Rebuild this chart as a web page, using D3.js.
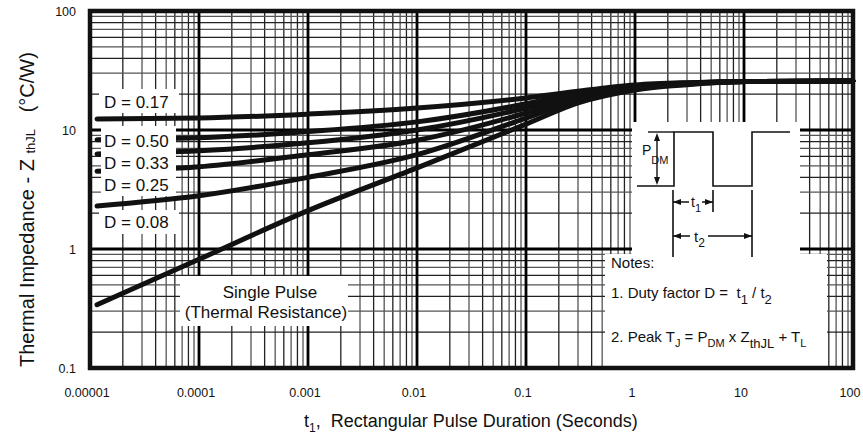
<!DOCTYPE html>
<html>
<head>
<meta charset="utf-8">
<script src="https://cdn.jsdelivr.net/npm/d3@7"></script>
<style>
  body { margin: 0; background: #fff; }
  svg text { font-family: Arial, "Liberation Sans", Helvetica, sans-serif; fill: #111; white-space: pre; }
</style>
</head>
<body>
<div class="chart"></div>
<script>
// pulse durations (s) the curves are read at
var tValues = [1.16e-5, 1e-4, 1e-3, 1e-2, 0.1, 0.3, 1, 3, 10, 100];

// thermal impedance (C/W), top curve to bottom curve
var zD17 = [12.4, 12.6, 13.6, 15.3, 18.6, 21.2, 23.9, 25.0, 25.5, 25.8];
var zD50 = [8.3, 8.6, 9.7, 11.7, 16.6, 20.5, 23.4, 24.8, 25.5, 25.8];
var zD33 = [6.3, 6.7, 7.8, 10.0, 15.3, 19.7, 23.0, 24.6, 25.5, 25.8];
var zD25 = [4.5, 4.9, 6.2, 8.2, 13.9, 18.9, 22.6, 24.4, 25.5, 25.8];
var zD08 = [2.3, 2.8, 4.0, 6.2, 12.6, 17.9, 22.2, 24.2, 25.5, 25.8];
var zSingle = [0.34, 0.82, 2.1, 4.8, 11.2, 16.9, 21.7, 24.0, 25.5, 25.8];

var curveLabels = ["D = 0.17", "D = 0.50", "D = 0.33", "D = 0.25", "D = 0.08"];

var xTickValues = [1e-5, 1e-4, 1e-3, 1e-2, 0.1, 1, 10, 100];
var xTickLabels = ["0.00001", "0.0001", "0.001", "0.01", "0.1", "1", "10", "100"];
var yTickValues = [0.1, 1, 10, 100];
var yTickLabels = ["0.1", "1", "10", "100"];

var width = 863, height = 434;
// note: "top" is taken by window.top, so the plot edges get their own names
var plotL = 90, plotR = 853, plotT = 11, plotB = 368;

var svg = d3.select('.chart').append('svg')
    .attr('width', width)
    .attr('height', height);

var x = d3.scaleLog().domain([1e-5, 100]).range([plotL, plotR]);
var y = d3.scaleLog().domain([0.1, 100]).range([plotB, plotT]);

// grid: minor lines at 2..9 of every decade, heavier lines on the decades
var grid = svg.append('g');
for (var d = -5; d < 2; d++) {
    for (var k = 2; k <= 9; k++) {
        var v = k * Math.pow(10, d);
        grid.append('line')
            .attr('x1', x(v)).attr('x2', x(v))
            .attr('y1', plotT).attr('y2', plotB)
            .style('stroke', (k % 2) ? '#555' : '#222')
            .style('stroke-width', 1.3);
    }
}
for (var d = -1; d < 2; d++) {
    for (var k = 2; k <= 9; k++) {
        var v = k * Math.pow(10, d);
        grid.append('line')
            .attr('x1', plotL).attr('x2', plotR)
            .attr('y1', y(v)).attr('y2', y(v))
            .style('stroke', (k % 2) ? '#555' : '#222')
            .style('stroke-width', 1.3);
    }
}
xTickValues.slice(1, -1).forEach(function (v) {
    grid.append('line')
        .attr('x1', x(v)).attr('x2', x(v))
        .attr('y1', plotT).attr('y2', plotB)
        .style('stroke', '#000').style('stroke-width', 2.8);
});
yTickValues.slice(1, -1).forEach(function (v) {
    grid.append('line')
        .attr('x1', plotL).attr('x2', plotR)
        .attr('y1', y(v)).attr('y2', y(v))
        .style('stroke', '#000').style('stroke-width', 2.8);
});

// curves
var line = d3.line()
    .x(function (p) { return x(p[0]); })
    .y(function (p) { return y(p[1]); })
    .curve(d3.curveMonotoneX);

[zD17, zD50, zD33, zD25, zD08, zSingle].forEach(function (series) {
    svg.append('path')
        .datum(tValues.map(function (t, i) { return [t, series[i]]; }))
        .attr('d', line)
        .style('fill', 'none')
        .style('stroke', '#111')
        .style('stroke-width', 5)
        .style('stroke-linecap', 'round');
});

// white patches behind the labels (they hide the start of the curves)
var patches = [
    [99, 89, 80, 24],     // D = 0.17
    [101, 126, 75, 70],   // D = 0.50 / 0.33 / 0.25
    [99, 210, 80, 24],    // D = 0.08
    [180, 276, 168, 50],  // single pulse
    [632, 122, 168, 133], // pulse sketch
    [605, 254, 222, 112]  // notes
];
patches.forEach(function (r) {
    svg.append('rect')
        .attr('x', r[0]).attr('y', r[1])
        .attr('width', r[2]).attr('height', r[3])
        .style('fill', '#fff');
});

var labelY = [108, 147, 169, 191, 228];
curveLabels.forEach(function (txt, i) {
    svg.append('text')
        .attr('x', 104).attr('y', labelY[i])
        .style('font-size', '17px')
        .text(txt);
});

svg.append('text')
    .attr('x', 270).attr('y', 298)
    .attr('text-anchor', 'middle')
    .style('font-size', '17px')
    .text('Single Pulse');
svg.append('text')
    .attr('x', 266).attr('y', 318)
    .attr('text-anchor', 'middle')
    .style('font-size', '17px')
    .text('(Thermal Resistance)');

// frame
svg.append('rect')
    .attr('x', plotL).attr('y', plotT)
    .attr('width', plotR - plotL).attr('height', plotB - plotT)
    .style('fill', 'none')
    .style('stroke', '#111')
    .style('stroke-width', 4.5);

// tick labels
xTickValues.forEach(function (v, i) {
    svg.append('text')
        .attr('x', x(v) - 3).attr('y', 397)
        .attr('text-anchor', 'middle')
        .style('font-size', '12.5px')
        .text(xTickLabels[i]);
});
yTickValues.forEach(function (v, i) {
    svg.append('text')
        .attr('x', 76).attr('y', y(v) + 5)
        .attr('text-anchor', 'end')
        .style('font-size', '12.5px')
        .text(yTickLabels[i]);
});

// axis titles
var xt = svg.append('text')
    .attr('x', 304).attr('y', 427)
    .style('font-size', '18px');
xt.append('tspan').text('t');
xt.append('tspan').attr('dy', 5).style('font-size', '12px').text('1');
xt.append('tspan').attr('dy', -5).text(',  Rectangular Pulse Duration (Seconds)');

var yt = svg.append('text')
    .attr('transform', 'translate(34,367) rotate(-90)')
    .style('font-size', '20px');
yt.append('tspan').text('Thermal Impedance - Z ');
yt.append('tspan').attr('dy', 1).style('font-size', '13px').text('thJL');
yt.append('tspan').attr('dy', -1).text('   (°C/W)');

// pulse sketch
var sk = svg.append('g').style('stroke', '#111').style('fill', 'none');
sk.append('path')
    .attr('d', 'M637,186 H674 V132 H713 V186 H752 V132 H790')
    .style('stroke-width', 1.6);
sk.append('path').attr('d', 'M648,132 H674').style('stroke-width', 1.4);
sk.append('path').attr('d', 'M673,190 V257 M713,190 V212 M752,190 V257').style('stroke-width', 1.6);
sk.append('path').attr('d', 'M657,140 V178').style('stroke-width', 1.4);
sk.append('path').attr('d', 'M673,202 H689 M702,202 H713 M673,236 H690 M708,236 H752').style('stroke-width', 1.4);

var heads = [
    [657, 133, 0, -1], [657, 185, 0, 1],
    [673, 202, -1, 0], [713, 202, 1, 0],
    [673, 236, -1, 0], [752, 236, 1, 0]
];
heads.forEach(function (h) {
    var px = h[0], py = h[1], dx = h[2], dy = h[3];
    var bx = px - dx * 8, by = py - dy * 8;
    svg.append('path')
        .attr('d', 'M' + px + ',' + py + ' L' + (bx + dy * 3) + ',' + (by - dx * 3) +
            ' L' + (bx - dy * 3) + ',' + (by + dx * 3) + ' Z')
        .style('fill', '#111');
});

var pdm = svg.append('text').attr('x', 642).attr('y', 155).style('font-size', '14px');
pdm.append('tspan').text('P');
pdm.append('tspan').attr('dy', 9).style('font-size', '11px').text('DM');

var t1 = svg.append('text').attr('x', 691).attr('y', 207).style('font-size', '14px');
t1.append('tspan').text('t');
t1.append('tspan').attr('dy', 5).style('font-size', '11px').text('1');
var t2 = svg.append('text').attr('x', 694).attr('y', 242).style('font-size', '15px');
t2.append('tspan').text('t');
t2.append('tspan').attr('dy', 5).style('font-size', '12px').text('2');

// notes
svg.append('text').attr('x', 611).attr('y', 268).style('font-size', '15px').text('Notes:');
var n1 = svg.append('text').attr('x', 611).attr('y', 298).style('font-size', '15px');
n1.append('tspan').text('1. Duty factor D =  t');
n1.append('tspan').attr('dy', 6).style('font-size', '13px').text('1');
n1.append('tspan').attr('dy', -6).text(' / t');
n1.append('tspan').attr('dy', 6).style('font-size', '13px').text('2');

var n2 = svg.append('text').attr('x', 611).attr('y', 342).style('font-size', '15px');
n2.append('tspan').text('2. Peak T');
n2.append('tspan').attr('dy', 5).style('font-size', '11px').text('J');
n2.append('tspan').attr('dy', -5).text(' = P');
n2.append('tspan').attr('dy', 5).style('font-size', '11px').text('DM');
n2.append('tspan').attr('dy', -5).text(' x Z');
n2.append('tspan').attr('dy', 6).style('font-size', '13px').text('thJL');
n2.append('tspan').attr('dy', -6).text(' + T');
n2.append('tspan').attr('dy', 5).style('font-size', '11px').text('L');
</script>
</body>
</html>
